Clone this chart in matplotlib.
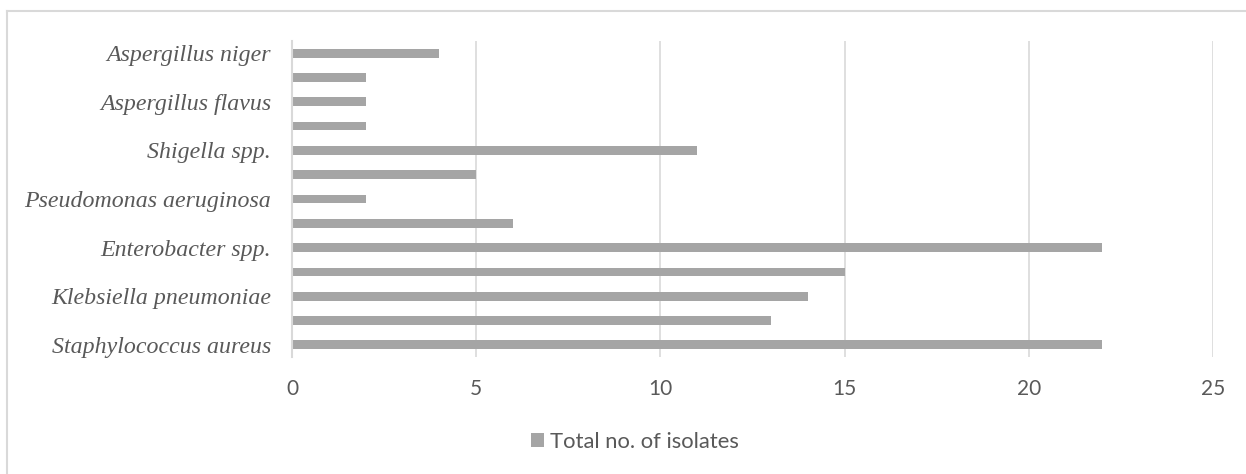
import matplotlib.pyplot as plt
from matplotlib.lines import Line2D
import numpy as np

# isolates per organism, listed bottom to top
organisms = ["Staphylococcus aureus", "", "Klebsiella pneumoniae", "",
             "Enterobacter spp.", "", "Pseudomonas aeruginosa", "",
             "Shigella spp.", "", "Aspergillus flavus", "", "Aspergillus niger"]
isolates = [22, 13, 14, 15, 22, 6, 2, 5, 11, 2, 2, 2, 4]
series_name = "Total no. of isolates"
x_ticks = [0, 5, 10, 15, 20, 25]

BAR = "#A5A5A5"
GRID = "#D9D9D9"
TEXT = "#595959"
tick_font = ["Lato", "DejaVu Sans"]

fig = plt.figure(figsize=(12.46, 4.74), dpi=100)
ax = fig.add_axes([0.2343, 0.2468, 0.7392, 0.6667])

pos = np.arange(len(organisms))
ax.barh(pos, isolates, height=0.36, color=BAR, zorder=3, label=series_name)

ax.set_xlim(0, 25)
ax.set_ylim(-0.5, len(organisms) - 0.5)
ax.set_xticks(x_ticks)
ax.set_xticklabels([str(t) for t in x_ticks], fontsize=15, color=TEXT,
                   family=tick_font)
ax.set_yticks(pos)
ax.set_yticklabels(organisms, fontsize=17.2, color=TEXT,
                   family="Liberation Serif", style="italic")
ax.tick_params(axis="x", length=0, pad=16)
ax.tick_params(axis="y", length=0, pad=15)

ax.grid(axis="x", color=GRID, linewidth=1.2, zorder=0)
for side in ["top", "right", "bottom"]:
    ax.spines[side].set_visible(False)
ax.spines["left"].set_color(GRID)
ax.spines["left"].set_linewidth(1.5)
ax.spines["left"].set_zorder(4)

leg = fig.legend(loc="center", bbox_to_anchor=(635 / 1246, 1 - 442 / 474),
                 frameon=False, handlelength=0.6, handleheight=0.6,
                 handletextpad=0.3,
                 prop={"family": tick_font, "size": 15.8})
for t in leg.get_texts():
    t.set_color(TEXT)

# chart frame (top and left edges)
fx, fy = 7 / 1246, 1 - 11 / 474
fig.add_artist(Line2D([fx, 1], [fy, fy], transform=fig.transFigure,
                      color=GRID, linewidth=1.5))
fig.add_artist(Line2D([fx, fx], [0, fy], transform=fig.transFigure,
                      color=GRID, linewidth=1.5))

fig.savefig("out.png", dpi=100, facecolor="white")
